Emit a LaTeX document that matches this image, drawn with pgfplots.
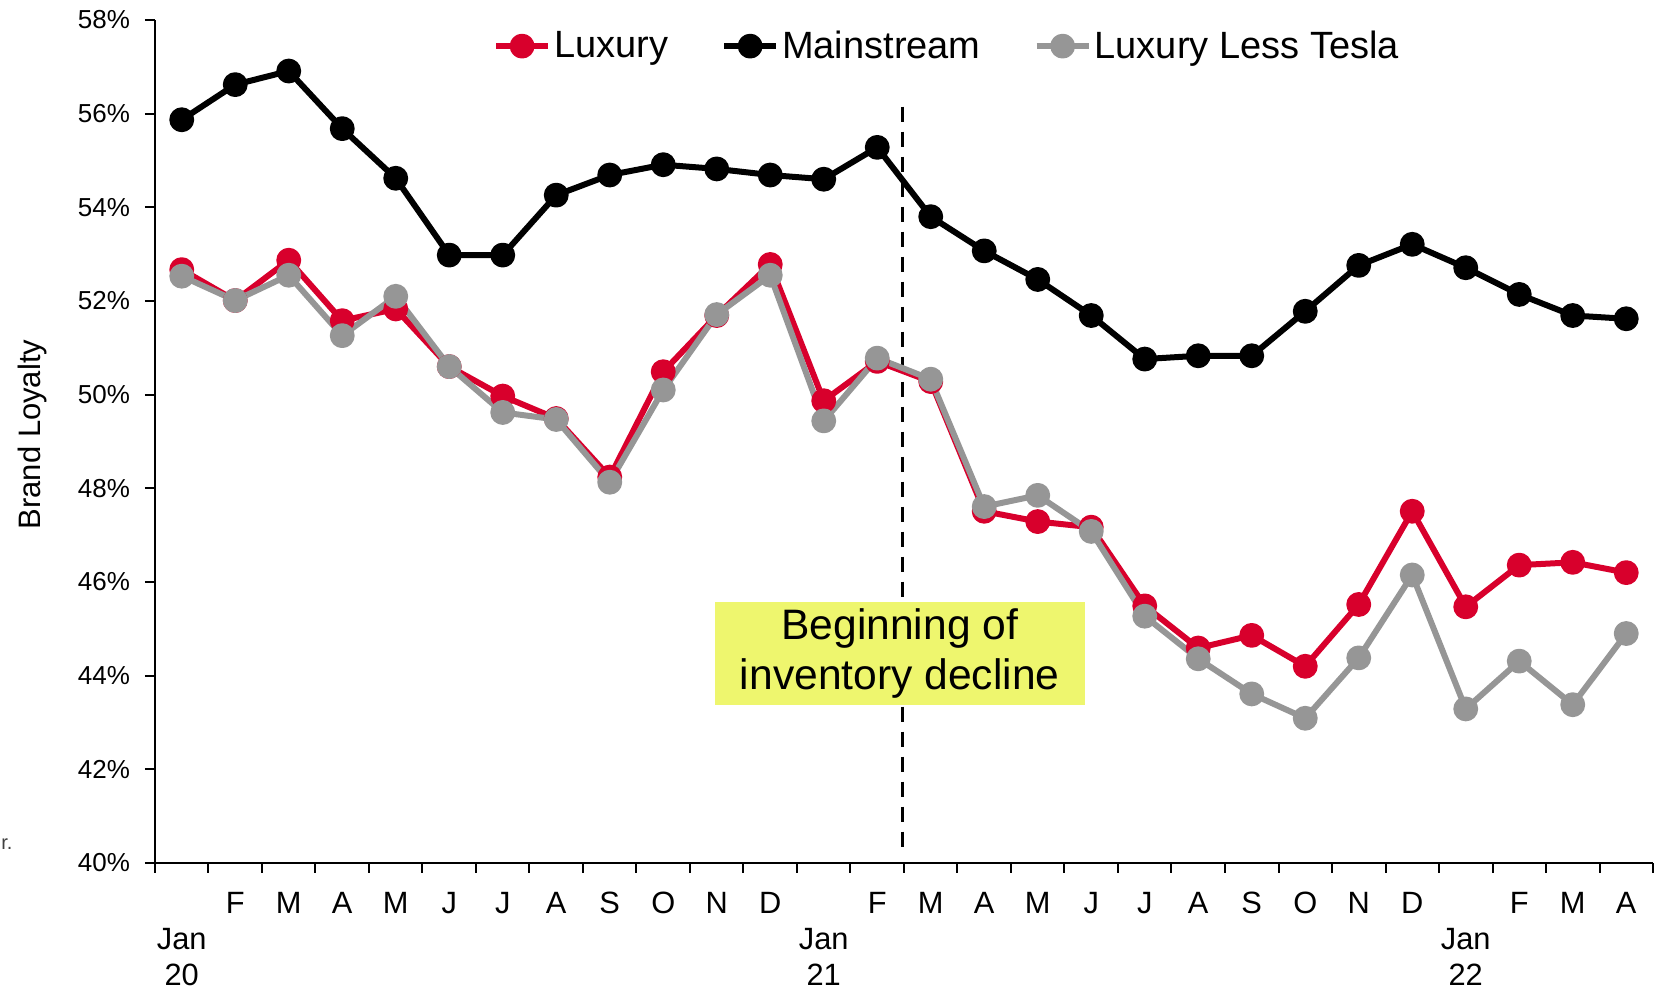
\documentclass[border=0pt]{standalone}
\usepackage{fontspec}
\setmainfont{Liberation Sans}
\usepackage{pgfplots}
\pgfplotsset{compat=1.18}
\definecolor{luxred}{RGB}{216,0,44}
\definecolor{ltgray}{RGB}{150,150,150}
\definecolor{boxyellow}{RGB}{238,246,110}
\begin{document}
\begin{tikzpicture}
\path[use as bounding box] (-77.5pt,-63.5pt) rectangle (756pt,431.5pt);
\begin{axis}[
  at={(0,0)}, anchor=south west,
  scale only axis, width=749pt, height=421.5pt,
  xmin=-0.5, xmax=27.5, ymin=40, ymax=58,
  axis lines*=left,
  axis line style={line width=1pt},
  tick align=outside, major tick length=5pt,
  tick style={line width=1pt, black},
  xtick={-0.5,0.5,...,27.5},
  xticklabels={{\phantom{F}\\Jan\\20},F,M,A,M,J,J,A,S,O,N,D,{\phantom{F}\\Jan\\21},F,M,A,M,J,J,A,S,O,N,D,{\phantom{F}\\Jan\\22},F,M,A,{}},
  xticklabel style={xshift=13.375pt, yshift=-6pt, align=center, font=\fontsize{15.4}{18}\selectfont},
  ytick={40,42,...,58},
  yticklabel={\pgfmathprintnumber{\tick}\%},
  /pgf/number format/assume math mode=true,
  yticklabel style={xshift=-4pt, font=\fontsize{13}{15}\selectfont},
  ylabel={Brand Loyalty},
  y label style={at={(axis description cs:-0.0821,0.5083)}, anchor=center, font=\fontsize{15.5}{18}\selectfont},
  legend style={at={(0.529,0.969)}, anchor=center, draw=none, fill=none,
    font=\fontsize{19}{22}\selectfont, nodes={inner sep=1.5pt},
    /tikz/every even column/.append style={column sep=25pt}},
  legend columns=3,
  legend image code/.code={\draw[mark repeat=2,mark phase=2,#1] plot coordinates {(0pt,0pt)(13pt,0pt)(26pt,0pt)};},
]
\draw[black, line width=1.7pt, dash pattern=on 7.5pt off 5pt] (axis cs:13.47,56.15) -- (axis cs:13.47,40.3);
\addplot[color=luxred, line width=3pt, line join=round, mark=*, mark size=4.7pt, mark options={solid}] coordinates {
(0,52.67) (1,52.01) (2,52.87) (3,51.58) (4,51.83) (5,50.60) (6,49.97) (7,49.49) (8,48.24) (9,50.49) (10,51.69) (11,52.78)
(12,49.87) (13,50.71) (14,50.28) (15,47.51) (16,47.29) (17,47.17) (18,45.49) (19,44.59) (20,44.86) (21,44.20) (22,45.52) (23,47.51)
(24,45.47) (25,46.36) (26,46.42) (27,46.20)};
\addlegendentry{Luxury}
\addplot[color=black, line width=3pt, line join=round, mark=*, mark size=4.7pt, mark options={solid}] coordinates {
(0,55.87) (1,56.62) (2,56.91) (3,55.68) (4,54.62) (5,52.98) (6,52.98) (7,54.26) (8,54.69) (9,54.91) (10,54.82) (11,54.69)
(12,54.60) (13,55.28) (14,53.80) (15,53.07) (16,52.46) (17,51.69) (18,50.76) (19,50.83) (20,50.83) (21,51.78) (22,52.76) (23,53.21)
(24,52.71) (25,52.14) (26,51.69) (27,51.62)};
\addlegendentry{Mainstream}
\addplot[color=ltgray, line width=3pt, line join=round, mark=*, mark size=4.7pt, mark options={solid}] coordinates {
(0,52.53) (1,52.01) (2,52.55) (3,51.26) (4,52.10) (5,50.60) (6,49.62) (7,49.47) (8,48.13) (9,50.10) (10,51.71) (11,52.55)
(12,49.44) (13,50.78) (14,50.33) (15,47.61) (16,47.85) (17,47.08) (18,45.27) (19,44.36) (20,43.61) (21,43.09) (22,44.38) (23,46.15)
(24,43.29) (25,44.31) (26,43.38) (27,44.90)};
\addlegendentry{Luxury Less Tesla}
\node[fill=boxyellow, minimum width=185pt, minimum height=51.5pt, align=center, inner sep=0pt, font=\fontsize{21.3}{25}\selectfont] at (axis cs:13.42,44.47) {Beginning of\\inventory decline};
\end{axis}
\node[anchor=base west, inner sep=0pt, font=\fontsize{10}{12}\selectfont, text=darkgray] at (-77pt,6.5pt) {r.};
\end{tikzpicture}
\end{document}
